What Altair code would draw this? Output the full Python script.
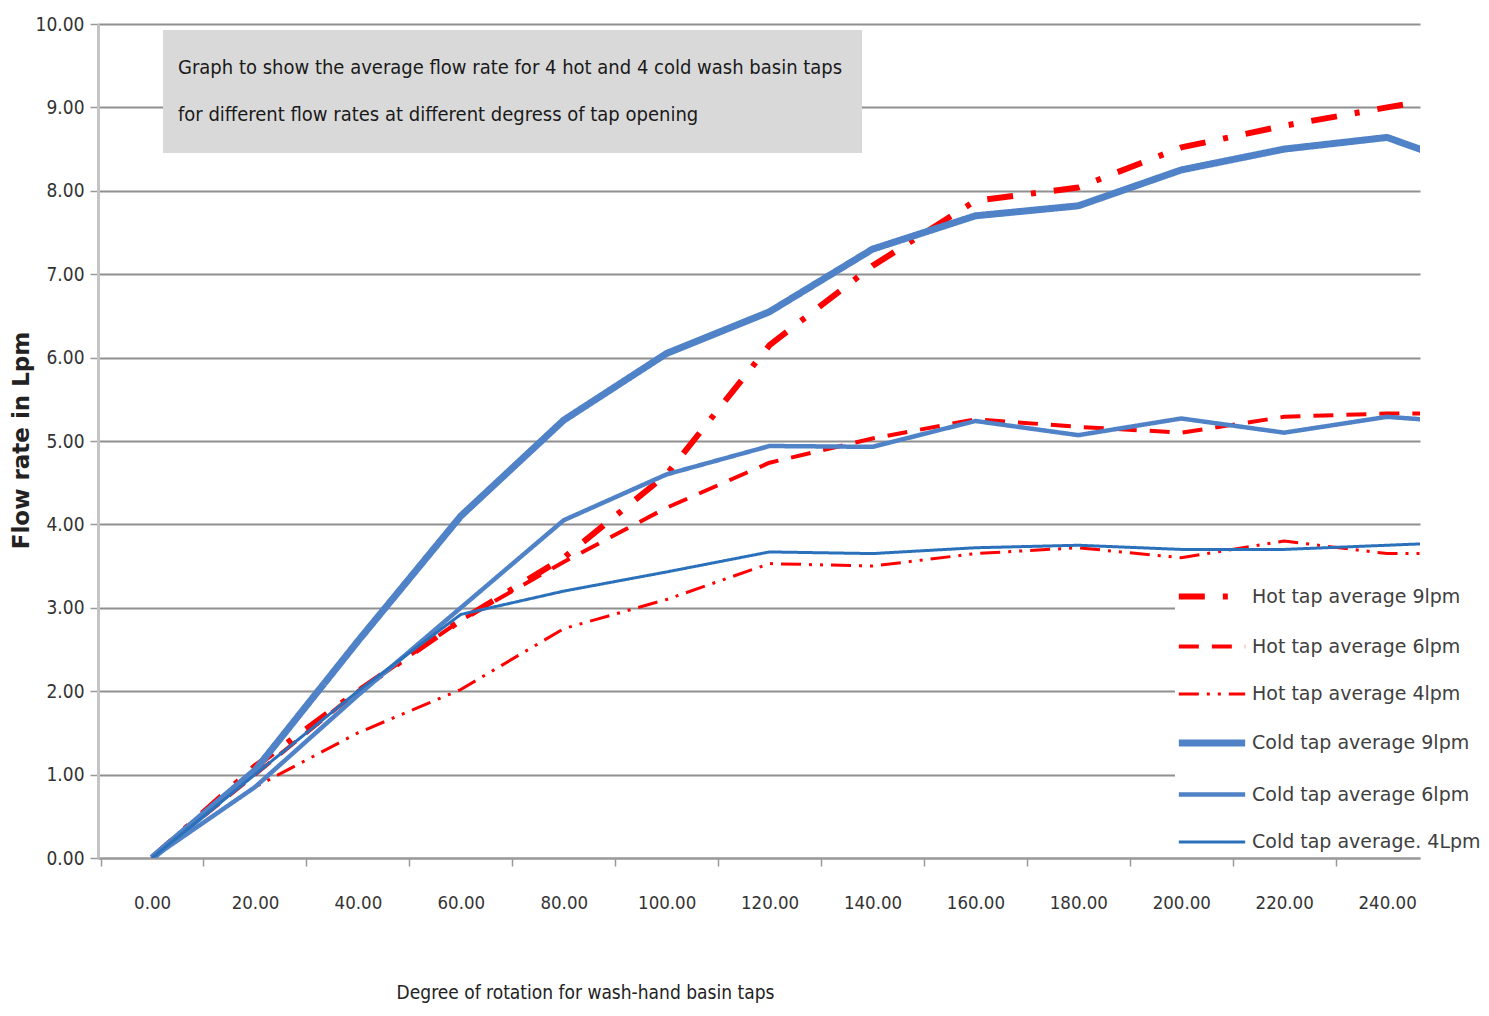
import altair as alt
import pandas as pd

degrees = [0, 20, 40, 60, 80, 100, 120, 140, 160, 180, 200, 220, 240, 260]

hot9 = [0.0, 1.1, 2.0, 2.85, 3.6, 4.6, 6.15, 7.1, 7.88, 8.04, 8.52, 8.78, 9.0, 9.2]
hot6 = [0.0, 1.0, 2.0, 2.85, 3.55, 4.2, 4.74, 5.03, 5.26, 5.17, 5.1, 5.29, 5.33, 5.33]
hot4 = [0.0, 0.85, 1.5, 2.02, 2.75, 3.1, 3.53, 3.5, 3.65, 3.72, 3.6, 3.8, 3.65, 3.65]
cold9 = [0.0, 1.05, 2.6, 4.1, 5.25, 6.05, 6.55, 7.3, 7.7, 7.82, 8.25, 8.5, 8.64, 8.2]
cold6 = [0.0, 0.85, 1.95, 3.0, 4.05, 4.6, 4.94, 4.93, 5.24, 5.07, 5.27, 5.1, 5.29, 5.2]
cold4 = [0.0, 1.0, 2.0, 2.92, 3.2, 3.43, 3.67, 3.65, 3.72, 3.75, 3.7, 3.7, 3.75, 3.8]

series_names = [
    "Hot tap average 9lpm",
    "Hot tap average 6lpm",
    "Hot tap average 4lpm",
    "Cold tap average 9lpm",
    "Cold tap average 6lpm",
    "Cold tap average. 4Lpm",
]
series_values = [hot9, hot6, hot4, cold9, cold6, cold4]
series_colors = ["#ff0000", "#ff0000", "#ff0000", "#4f82c6", "#4f82c6", "#2a70ba"]
series_dash = [[26, 18, 5, 18], [20, 13], [20, 8, 3, 8, 3, 8], [1, 0], [1, 0], [1, 0]]
series_width = [6, 4, 3, 7, 4.5, 3]

y_ticks = [0, 1, 2, 3, 4, 5, 6, 7, 8, 9, 10]
x_tick_bounds = [-10, 10, 30, 50, 70, 90, 110, 130, 150, 170, 190, 210, 230]

title_lines = [
    "Graph to show the average flow rate for 4 hot and 4 cold wash basin taps",
    "for different flow rates at different degress of tap opening",
]

rows = []
for name, vals in zip(series_names, series_values):
    for d, v in zip(degrees, vals):
        rows.append({"deg": d, "flow": v, "series": name})
df = pd.DataFrame(rows)

W, H = 1322, 834
NARROW = "DejaVu Sans Condensed, Liberation Sans Narrow, sans-serif"

legend = alt.Legend(
    orient="none", legendX=1077, legendY=536, title=None,
    labelFont="DejaVu Sans", labelFontSize=19, labelColor="#404040", labelLimit=400,
    symbolType="stroke", symbolSize=4400, labelOffset=3,
    fillColor="white", padding=0,
)

lines = alt.Chart(df).mark_line(clip=True, strokeJoin="round").encode(
    x=alt.X("deg:Q",
            scale=alt.Scale(domain=[-10.5, 246.4], nice=False, zero=False),
            axis=alt.Axis(values=x_tick_bounds,
                          labelExpr="format(datum.value + 10, '.2f')",
                          labelOffset=51.5, labelPadding=27, labelFont=NARROW,
                          labelFontSize=18.5, labelColor="#333333", labelOverlap=False,
                          labelBound=False, labelFlush=False,
                          tickSize=8, tickColor="#999999", tickWidth=1.5,
                          domainColor="#9a9a9a", domainWidth=2, grid=False,
                          title="Degree of rotation for wash-hand  basin taps",
                          titleFont=NARROW, titleFontSize=19, titleFontWeight="normal",
                          titleColor="#222222", titleX=487, titleY=125,
                          titleAnchor="start", titleAlign="center")),
    y=alt.Y("flow:Q",
            scale=alt.Scale(domain=[0, 10], nice=False),
            axis=alt.Axis(values=y_ticks, format=".2f", labelFont=NARROW,
                          labelFontSize=19, labelColor="#333333", labelPadding=6,
                          tickSize=8, tickColor="#999999", tickWidth=1.5,
                          domainColor="#c4c4c4", domainWidth=3,
                          grid=True, gridColor="#8f8f8f", gridWidth=2,
                          title="Flow rate in Lpm", titleFont="DejaVu Sans",
                          titleFontSize=23, titleFontWeight="bold", titleColor="#222222",
                          titleX=-65, titleY=416, titleAlign="center")),
    color=alt.Color("series:O", scale=alt.Scale(domain=series_names, range=series_colors), legend=legend),
    strokeDash=alt.StrokeDash("series:O", scale=alt.Scale(domain=series_names, range=series_dash), legend=legend),
    strokeWidth=alt.StrokeWidth("series:O", scale=alt.Scale(type="ordinal", domain=series_names, range=series_width), legend=legend),
)

box = alt.Chart(pd.DataFrame({"t": ["box"]})).mark_rect(color="#d9d9d9").encode(
    x=alt.value(65), x2=alt.value(764), y=alt.value(6), y2=alt.value(129)
)

title_df = pd.DataFrame({"line": title_lines, "idx": [0, 1]})
title_text = alt.Chart(title_df).mark_text(
    align="left", baseline="middle", font=NARROW, fontSize=20, color="#1a1a1a", x=80
).encode(
    text="line:N",
    y=alt.Y("idx:Q", scale=alt.Scale(domain=[0, 1], range=[44, 91]), axis=None),
)

chart = alt.layer(box, lines, title_text).resolve_scale(y="independent").properties(
    width=W, height=H,
    autosize=alt.AutoSizeParams(type="none"),
    padding={"left": 90, "top": 16, "right": 60, "bottom": 150},
    background="white",
).configure_view(stroke=None)

chart.save("out.html", embed_options={"renderer": "svg", "actions": False})
